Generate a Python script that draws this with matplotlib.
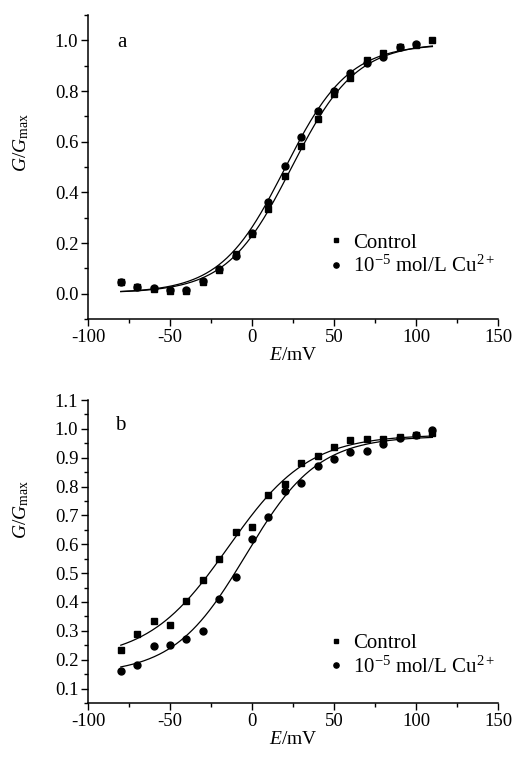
import numpy as np
import matplotlib
matplotlib.use("Agg")
import matplotlib.pyplot as plt
from matplotlib.ticker import MultipleLocator

plt.rcParams['font.family'] = ['Liberation Serif', 'DejaVu Serif']
plt.rcParams['mathtext.fontset'] = 'custom'
plt.rcParams['mathtext.rm'] = 'Liberation Serif'
plt.rcParams['mathtext.it'] = 'Liberation Serif:italic'
plt.rcParams['axes.unicode_minus'] = False

# ---- data ----
voltage = [-80, -70, -60, -50, -40, -30, -20, -10, 0, 10, 20, 30, 40, 50, 60, 70, 80, 90, 100, 110]

a_control = [0.045, 0.025, 0.018, 0.010, 0.012, 0.045, 0.095, 0.155, 0.235, 0.335, 0.465,
             0.583, 0.690, 0.787, 0.853, 0.924, 0.951, 0.972, 0.982, 1.000]
a_cu_voltage = [-80, -70, -60, -50, -40, -30, -20, -10, 0, 10, 20, 30, 40, 50, 60, 70, 80, 90, 100]
a_cu = [0.045, 0.028, 0.022, 0.013, 0.015, 0.050, 0.098, 0.150, 0.240, 0.360, 0.505,
        0.619, 0.720, 0.800, 0.870, 0.910, 0.934, 0.974, 0.984]

b_control = [0.233, 0.290, 0.335, 0.319, 0.402, 0.477, 0.550, 0.644, 0.659, 0.771, 0.809,
             0.883, 0.906, 0.936, 0.962, 0.964, 0.964, 0.973, 0.979, 0.985]
b_cu = [0.162, 0.183, 0.249, 0.250, 0.272, 0.298, 0.411, 0.486, 0.619, 0.694, 0.785,
        0.812, 0.872, 0.895, 0.919, 0.925, 0.947, 0.970, 0.978, 0.996]

# Boltzmann fit parameters (A1, A2, V_half, k)
a_control_fit = [0.003, 0.99, 24.0, 19.7]
a_cu_fit = [0.003, 0.985, 20.0, 19.5]
b_control_fit = [0.20, 0.98, -14.5, 24.5]
b_cu_fit = [0.15, 0.975, -3.8, 22.0]

xticks = [-100, -50, 0, 50, 100, 150]
labels = ['Control', r'10$^{-5}$ mol/L Cu$^{2+}$']


def boltz(v, p):
    a1, a2, vh, k = p
    return a2 + (a1 - a2) / (1 + np.exp((v - vh) / k))


fig = plt.figure(figsize=(5.17, 7.58), dpi=100)
ax1 = fig.add_axes([88 / 517, 1 - 319 / 758, 410 / 517, 304 / 758])
ax2 = fig.add_axes([88 / 517, 1 - 703 / 758, 410 / 517, 303 / 758])

vfit = np.linspace(-80, 110, 300)


def style(ax, ylim, ymaj, ymin, fmt):
    for s in ['top', 'right']:
        ax.spines[s].set_visible(False)
    for s in ['left', 'bottom']:
        ax.spines[s].set_linewidth(1.1)
    ax.set_xlim(-100, 150)
    ax.set_ylim(*ylim)
    ax.set_xticks(xticks)
    ax.xaxis.set_minor_locator(MultipleLocator(25))
    ax.yaxis.set_major_locator(MultipleLocator(ymaj))
    ax.yaxis.set_minor_locator(MultipleLocator(ymin))
    ax.yaxis.set_major_formatter(plt.FormatStrFormatter(fmt))
    ax.tick_params(which='major', direction='out', length=5, width=1.0, labelsize=13.5, pad=2)
    ax.tick_params(which='minor', direction='out', length=3, width=1.0)
    ax.set_xlabel(r'$E$/mV', fontsize=14, labelpad=1)
    ax.set_ylabel(r'$G/G_{\mathrm{max}}$', fontsize=14)


# panel a
ax1.plot(voltage, a_control, 's', color='black', ms=4.8, label=labels[0])
ax1.plot(a_cu_voltage, a_cu, 'o', color='black', ms=5.0, label=labels[1])
ax1.plot(vfit, boltz(vfit, a_control_fit), '-', color='black', lw=0.9)
ax1.plot(vfit, boltz(vfit, a_cu_fit), '-', color='black', lw=0.9)
style(ax1, (-0.1, 1.1), 0.2, 0.1, '%.1f')
ax1.yaxis.set_label_coords(-0.139, 0.58)
ax1.text(0.083, 0.911, 'a', transform=ax1.transAxes, fontsize=15, ha='center', va='center')
ax1.legend(loc='center left', bbox_to_anchor=(0.585, 0.21), frameon=False, fontsize=15,
           handlelength=0.8, handletextpad=0.4, borderpad=0, borderaxespad=0,
           labelspacing=0.15, markerscale=0.75)

# panel b
ax2.plot(voltage, b_control, 's', color='black', ms=4.8, label=labels[0])
ax2.plot(voltage, b_cu, 'o', color='black', ms=5.0, label=labels[1])
ax2.plot(vfit, boltz(vfit, b_control_fit), '-', color='black', lw=0.9)
ax2.plot(vfit, boltz(vfit, b_cu_fit), '-', color='black', lw=0.9)
style(ax2, (0.05, 1.1), 0.1, 0.05, '%.1f')
ax2.yaxis.set_label_coords(-0.139, 0.64)
ax2.text(0.078, 0.917, 'b', transform=ax2.transAxes, fontsize=15, ha='center', va='center')
ax2.legend(loc='center left', bbox_to_anchor=(0.585, 0.157), frameon=False, fontsize=15,
           handlelength=0.8, handletextpad=0.4, borderpad=0, borderaxespad=0,
           labelspacing=0.15, markerscale=0.75)

fig.savefig('out.png', dpi=100, facecolor='white')
